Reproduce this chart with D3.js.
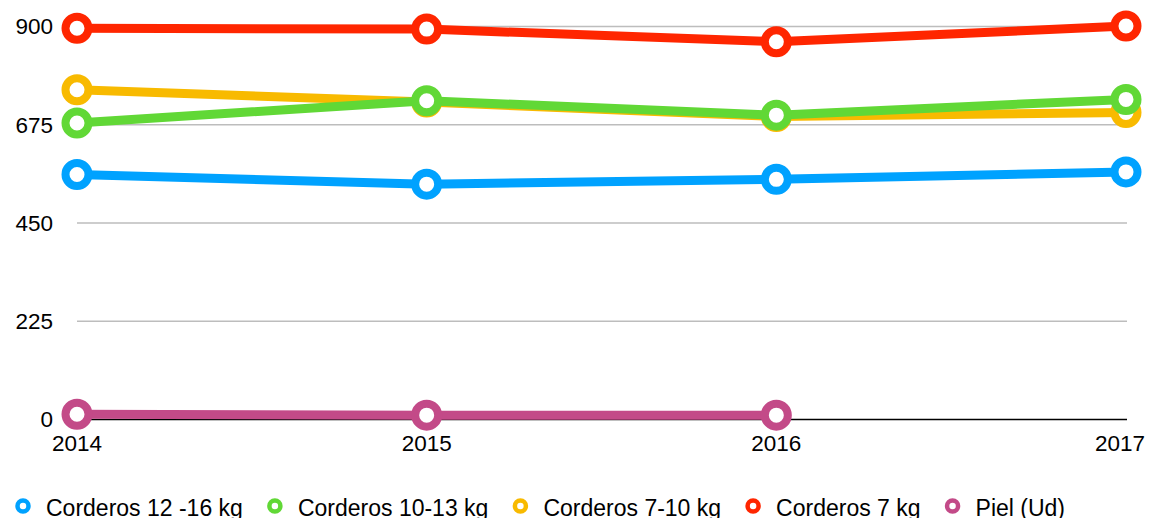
<!DOCTYPE html>
<html><head><meta charset="utf-8">
<script src="https://cdn.jsdelivr.net/npm/d3@7"></script>
<style>body{margin:0;background:#fff;overflow:hidden}text{font-family:"Liberation Sans",Arial,Helvetica,sans-serif;fill:#000}</style>
</head><body>
<svg id="c" width="1151" height="518"></svg>
<script>
const years = [2014, 2015, 2016, 2017];
const yTicks = [0, 225, 450, 675, 900];
const seriesNames = ["Corderos 12 -16 kg", "Corderos 10-13 kg", "Corderos 7-10 kg", "Corderos 7 kg", "Piel (Ud)"];
const seriesColors = ["#00A2FF", "#61D836", "#F8BA00", "#FF2600", "#C34A88"];
const blue = [561, 539, 550, 567];
const green = [679, 730, 697, 733];
const yellow = [755, 727, 694, 703];
const red = [896, 894, 865, 901];
const piel = [12, 10, 10, null];
const seriesValues = [blue, green, yellow, red, piel];

const svg = d3.select("#c");
const x = d3.scalePoint().domain(years).range([77, 1126]);
const y = d3.scaleLinear().domain([0, 900]).range([419.5, 26.5]);

// gridlines
svg.append("g").selectAll("line").data(yTicks.filter(d => d > 0)).join("line")
  .attr("x1", 77).attr("x2", 1127).attr("y1", d => y(d)).attr("y2", d => y(d))
  .attr("stroke", "#bdbdbd").attr("stroke-width", 1.5);
svg.append("line").attr("x1", 77).attr("x2", 1127).attr("y1", y(0)).attr("y2", y(0))
  .attr("stroke", "#000").attr("stroke-width", 1.5);

// y labels
svg.append("g").selectAll("text").data(yTicks).join("text")
  .attr("x", 53).attr("y", d => y(d)).attr("dy", "0.35em")
  .attr("text-anchor", "end").style("font-size", "22.5px").text(d => d);

// x labels
svg.append("g").selectAll("text").data(years).join("text")
  .attr("x", (d, i) => i === years.length - 1 ? 1145 : x(d)).attr("y", 451)
  .attr("text-anchor", (d, i) => i === years.length - 1 ? "end" : "middle")
  .style("font-size", "22.5px").text(d => d);

// series (drawn in reverse order so first legend entries are on top)
const order = [4, 3, 2, 1, 0];
const line = d3.line().defined(d => d.v != null).x(d => x(d.yr)).y(d => y(d.v));
order.forEach(si => {
  const pts = years.map((yr, i) => ({yr, v: seriesValues[si][i]}));
  const g = svg.append("g");
  g.append("path").datum(pts).attr("d", line).attr("fill", "none")
    .attr("stroke", seriesColors[si]).attr("stroke-width", 9).attr("stroke-linejoin", "round");
  g.selectAll("circle").data(pts.filter(d => d.v != null)).join("circle")
    .attr("cx", d => x(d.yr)).attr("cy", d => y(d.v)).attr("r", 11.5)
    .attr("fill", "#fff").attr("stroke", seriesColors[si]).attr("stroke-width", 8);
});

// legend
const lg = svg.append("g");
let lx = 23;
seriesNames.forEach((n, i) => {
  lg.append("circle").attr("cx", lx).attr("cy", 506).attr("r", 5.5)
    .attr("fill", "#fff").attr("stroke", seriesColors[i]).attr("stroke-width", 4.5);
  const t = lg.append("text").attr("x", lx + 23).attr("y", 515.5).style("font-size", "23px").text(n);
  const w = t.node().getComputedTextLength();
  lx = lx + 23 + w + 32;
});
</script>
</body></html>
